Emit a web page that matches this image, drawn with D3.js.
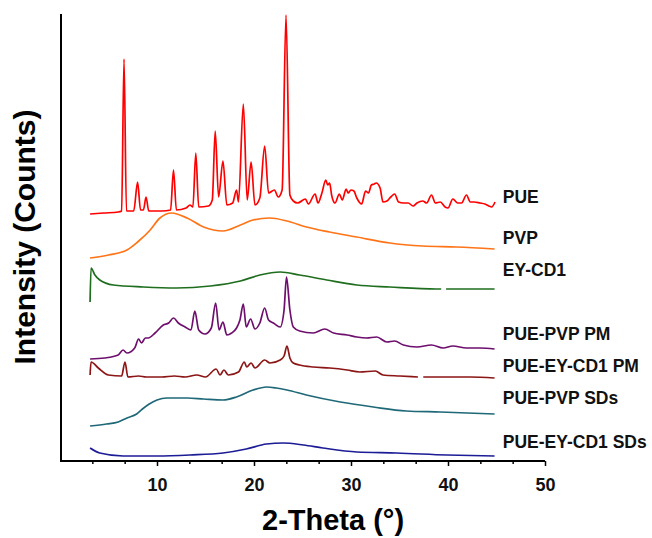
<!DOCTYPE html>
<html>
<head>
<meta charset="utf-8">
<script src="https://d3js.org/d3.v7.min.js"></script>
<style>
  body { margin: 0; background: #fff; }
  text { font-family: "Liberation Sans", Arial, sans-serif; font-weight: bold; }
</style>
</head>
<body>
<div id="chart"></div>
<script>
// diffractograms, stacked (intensity already includes each trace's offset, arbitrary counts)
var names = ["PUE", "PVP", "EY-CD1", "PUE-PVP PM", "PUE-EY-CD1 PM", "PUE-PVP SDs", "PUE-EY-CD1 SDs"];
var colors = ["#ff0000", "#ff7417", "#1f6e1f", "#6e0f6e", "#8c1515", "#1f6878", "#1c1c96"];
var labelY = [264, 223, 191, 127, 95, 63, 19];   // where each name sits (intensity units)

var pue = [[3.1,247],[4.5,248],[6.0,249],[6.35,250],[6.6,402],[6.85,250],[7.6,250],[8.0,279],[8.3,251],
  [8.6,251],[8.87,264],[9.15,250],[10.5,250],[11.4,251],[11.7,291],[12.0,251],[13.0,253],[13.4,256],
  [13.7,254],[14.0,308],[14.3,254],[15.3,255],[15.7,261],[16.0,330],[16.35,264],[16.8,300],[17.2,256],
  [17.8,258],[18.2,271],[18.4,259],[18.9,357],[19.3,261],[19.7,299],[20.1,256],[20.6,263],[21.1,315],
  [21.5,268],[22.1,271],[22.5,264],[22.9,271],[23.3,446],[23.7,266],[24.05,260],[24.5,258],[25.3,262],
  [25.6,257],[26.3,267],[26.6,258],[27.0,268],[27.4,281],[27.6,276],[27.8,278],[28.0,266],[28.35,258],
  [28.8,267],[29.1,261],[29.5,272],[29.7,268],[30.0,271],[30.3,270],[30.6,263],[31.1,257],[31.5,270],
  [31.8,268],[32.1,276],[32.4,277],[32.6,278],[33.0,273],[33.3,259],[33.7,260],[34.1,264],[34.5,267],
  [34.9,259],[35.4,258],[35.9,258],[36.4,255],[36.8,258],[37.4,260],[37.8,258],[38.3,266],[38.7,258],
  [39.2,259],[39.7,254],[40.0,253],[40.5,262],[41.0,258],[41.4,258],[41.9,266],[42.3,259],[42.7,259],
  [43.3,258],[43.8,257],[44.2,255],[44.5,254],[44.85,259]];

var pvp = [[3.1,203],[5.0,206],[6.9,211],[8.0,219],[9.3,231],[10.3,243],[11.5,248],[13.1,243],[14.8,234],
  [16.8,230],[18.6,236],[19.9,241],[21.6,243],[23.4,240],[25.4,234],[27.8,229],[30.6,224],[34.0,218],
  [37.4,215],[40.9,214],[44.8,212]];

var eyCd1 = [[3.1,159],[3.2,193],[3.6,186],[4.1,181],[5.5,176],[8.6,174],[12.0,173],[15.5,175],[18.6,180],
  [20.6,186],[22.7,189],[24.7,186],[27.5,181],[30.6,176],[34.0,174],[38.8,172],[39.3,172],[39.5,null],
  [39.8,172],[42.6,172],[44.8,172]];

var puePvpPm = [[3.1,102],[4.6,103],[6.0,106],[6.5,111],[6.9,108],[7.7,113],[8.1,122],[8.4,118],[8.8,123],
  [9.1,123],[9.8,128],[10.65,136],[11.2,138],[11.7,143],[12.2,138],[12.9,134],[13.5,131],[13.9,150],
  [14.3,131],[14.95,127],[15.6,133],[16.05,158],[16.4,131],[16.8,139],[17.2,126],[17.7,128],[18.2,133],
  [18.55,141],[18.9,157],[19.2,134],[19.65,142],[20.1,132],[20.6,138],[21.1,153],[21.5,141],[22.0,138],
  [22.7,134],[23.1,151],[23.35,184],[23.7,151],[24.05,134],[24.7,130],[26.1,128],[27.3,132],[28.2,128],
  [29.6,126],[30.6,124],[31.6,123],[32.65,124],[33.7,119],[34.5,120],[35.4,116],[36.8,114],[38.3,116],
  [39.5,113],[40.5,115],[41.9,113],[43.3,113],[44.8,112]];

var pueEyPm = [[3.1,86],[3.2,99],[3.95,93],[5.0,86],[6.35,85],[6.7,99],[7.0,84],[8.1,85],[8.9,84],[10.5,84],
  [11.8,85],[12.9,84],[14.1,86],[15.0,84],[16.1,92],[16.5,86],[16.9,91],[17.35,86],[18.4,89],[19.0,99],
  [19.25,94],[19.7,98],[20.1,93],[21.1,101],[21.65,98],[22.7,101],[23.1,105],[23.4,115],[23.7,103],
  [24.05,98],[24.7,96],[26.1,94],[27.8,93],[29.6,91],[30.9,89],[32.5,90],[33.3,86],[35.05,85],[36.9,84],
  [37.15,null],[37.45,84],[39.9,84],[42.3,84],[44.8,83]];

var puePvpSd = [[3.1,35],[4.8,37],[6.0,39],[6.9,43],[7.9,47],[8.5,52],[9.2,57],[10.0,61],[11.0,63],[13.1,63],
  [14.8,62],[16.8,61],[18.2,64],[19.9,71],[21.3,74],[22.3,73],[23.4,71],[25.4,66],[28.9,59],[32.3,54],
  [35.7,50],[39.2,49],[44.8,47]];

var pueEySd = [[3.1,13],[4.1,8],[6.5,5],[10.0,5],[13.4,6],[16.8,8],[19.2,12],[21.3,17],[23.0,18],[25.1,16],
  [27.1,13],[30.6,9],[34.7,8],[39.9,6],[44.8,5]];

var series = [pue, pvp, eyCd1, puePvpPm, pueEyPm, puePvpSd, pueEySd];

var majorTicks = [10, 20, 30, 40, 50];

var width = 652, height = 538;
var margin = {top: 14, right: 107, bottom: 77, left: 60};

var svg = d3.select("#chart").append("svg")
    .attr("width", width)
    .attr("height", height);

var x = d3.scaleLinear().domain([0, 50]).range([margin.left, width - margin.right]);
var y = d3.scaleLinear().domain([0, 447]).range([height - margin.bottom, margin.top]);

var minorTicks = d3.range(10 / 3, 50, 10 / 3).filter(function(t) { return Math.abs(t - Math.round(t / 10) * 10) > 0.1; });

var line = d3.line()
    .defined(function(d) { return d[1] != null; })
    .x(function(d) { return x(d[0]); })
    .y(function(d) { return y(d[1]); })
    .curve(d3.curveMonotoneX);

series.forEach(function(s, i) {
  svg.append("path")
      .datum(s)
      .attr("fill", "none")
      .attr("stroke", colors[i])
      .attr("stroke-width", 1.7)
      .attr("stroke-linejoin", "round")
      .attr("d", line);

  svg.append("text")
      .attr("x", x(45.65))
      .attr("y", y(labelY[i]))
      .attr("dy", "0.35em")
      .style("font-size", "17.5px")
      .style("fill", "#111")
      .text(names[i]);
});

// x axis, major + minor ticks
svg.append("g")
    .attr("transform", "translate(0," + y(0) + ")")
    .call(d3.axisBottom(x).tickValues(minorTicks).tickSize(3).tickFormat("").tickSizeOuter(0))
    .call(function(g) { g.select(".domain").remove(); })
    .selectAll("line").attr("stroke-width", 1.5);

var xAxis = svg.append("g")
    .attr("transform", "translate(0," + y(0) + ")")
    .call(d3.axisBottom(x).tickValues(majorTicks).tickSize(5).tickSizeOuter(0).tickPadding(12));
xAxis.select(".domain").attr("stroke-width", 2).attr("d", "M" + (x(0) + 1) + ",0H" + x(50));
xAxis.selectAll("line").attr("stroke-width", 1.5);
xAxis.selectAll("text")
    .style("font-size", "18px")
    .style("font-family", "'Liberation Sans', Arial, sans-serif")
    .style("font-weight", "bold")
    .style("fill", "#111");

// y axis is just the spine
svg.append("line")
    .attr("x1", x(0) + 1).attr("x2", x(0) + 1)
    .attr("y1", y(447)).attr("y2", y(0) + 1)
    .attr("stroke", "#000")
    .attr("stroke-width", 2);

svg.append("text")
    .attr("x", 262)
    .attr("y", 530)
    .style("font-size", "29px")
    .style("fill", "#000")
    .text("2-Theta (°)");

svg.append("text")
    .attr("transform", "translate(35," + 237 + ") rotate(-90)")
    .attr("text-anchor", "middle")
    .style("font-size", "30px")
    .style("fill", "#000")
    .text("Intensity (Counts)");
</script>
</body>
</html>
